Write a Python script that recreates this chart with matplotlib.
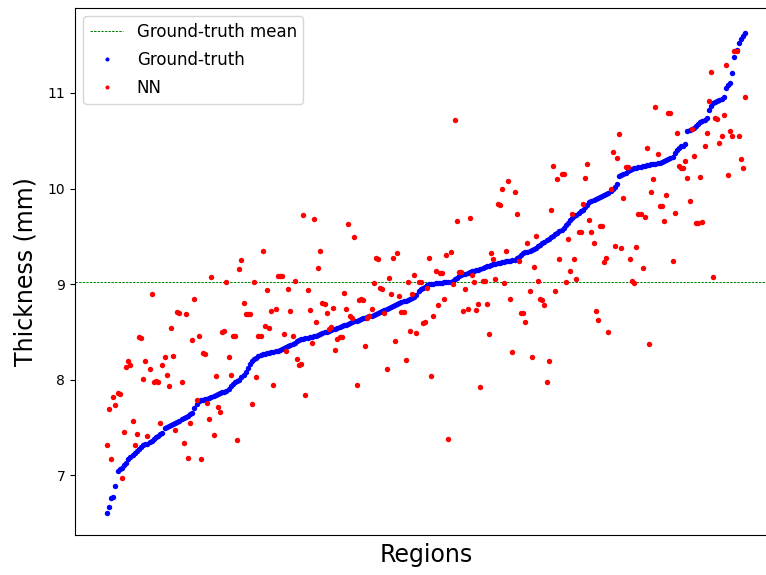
import numpy as np
import matplotlib
matplotlib.use("Agg")
import matplotlib.pyplot as plt

# Ground-truth thickness per region (mm), sorted ascending
ground_truth = [
    6.60, 6.66, 6.76, 6.77, 6.88, 7.04, 7.06, 7.07, 7.10, 7.13,
    7.17, 7.19, 7.21, 7.23, 7.25, 7.27, 7.29, 7.31, 7.32, 7.33,
    7.35, 7.36, 7.38, 7.40, 7.41, 7.43, 7.44, 7.49, 7.50, 7.51,
    7.52, 7.53, 7.54, 7.56, 7.57, 7.59, 7.60, 7.61, 7.62, 7.64,
    7.65, 7.70, 7.74, 7.78, 7.79, 7.79, 7.80, 7.80, 7.81, 7.82,
    7.83, 7.84, 7.85, 7.86, 7.87, 7.87, 7.88, 7.90, 7.93, 7.95,
    7.97, 7.98, 8.00, 8.03, 8.05, 8.08, 8.12, 8.16, 8.19, 8.21,
    8.23, 8.25, 8.26, 8.27, 8.27, 8.28, 8.28, 8.29, 8.29, 8.30,
    8.30, 8.31, 8.32, 8.33, 8.34, 8.35, 8.36, 8.37, 8.38, 8.40,
    8.41, 8.42, 8.42, 8.43, 8.43, 8.44, 8.45, 8.46, 8.46, 8.47,
    8.48, 8.49, 8.50, 8.50, 8.51, 8.52, 8.53, 8.53, 8.54, 8.55,
    8.56, 8.57, 8.57, 8.58, 8.59, 8.60, 8.61, 8.61, 8.62, 8.63,
    8.64, 8.64, 8.65, 8.66, 8.67, 8.68, 8.69, 8.70, 8.71, 8.72,
    8.73, 8.74, 8.75, 8.76, 8.77, 8.78, 8.79, 8.80, 8.81, 8.82,
    8.82, 8.83, 8.84, 8.85, 8.86, 8.88, 8.93, 8.95, 8.96, 8.97,
    8.99, 9.00, 9.00, 9.00, 9.01, 9.01, 9.01, 9.01, 9.02, 9.02,
    9.02, 9.02, 9.03, 9.05, 9.06, 9.08, 9.09, 9.10, 9.11, 9.12,
    9.13, 9.14, 9.14, 9.15, 9.15, 9.16, 9.17, 9.18, 9.19, 9.19,
    9.20, 9.21, 9.21, 9.22, 9.22, 9.23, 9.23, 9.24, 9.24, 9.24,
    9.25, 9.25, 9.27, 9.28, 9.30, 9.32, 9.33, 9.34, 9.35, 9.36,
    9.37, 9.38, 9.40, 9.41, 9.43, 9.44, 9.46, 9.47, 9.49, 9.50,
    9.52, 9.53, 9.55, 9.57, 9.59, 9.62, 9.64, 9.67, 9.69, 9.71,
    9.72, 9.74, 9.76, 9.78, 9.81, 9.83, 9.86, 9.87, 9.88, 9.89,
    9.90, 9.91, 9.92, 9.93, 9.94, 9.95, 9.97, 10.00, 10.02, 10.05,
    10.13, 10.14, 10.15, 10.16, 10.18, 10.19, 10.20, 10.21, 10.21, 10.22,
    10.23, 10.24, 10.24, 10.25, 10.25, 10.26, 10.26, 10.26, 10.27, 10.27,
    10.28, 10.29, 10.30, 10.31, 10.32, 10.33, 10.37, 10.40, 10.42, 10.44,
    10.45, 10.47, 10.60, 10.61, 10.62, 10.63, 10.65, 10.68, 10.70, 10.71,
    10.72, 10.74, 10.82, 10.86, 10.90, 10.91, 10.92, 10.93, 10.94, 10.96,
    11.05, 11.08, 11.10, 11.21, 11.38, 11.45, 11.52, 11.57, 11.60, 11.63,
]

# Network prediction for the same regions (mm)
nn_pred = [
    7.31, 7.69, 7.165, 7.82, 7.73, 7.855, 7.85, 6.97, 7.45, 8.13,
    8.19, 8.155, 7.57, 7.31, 7.43, 8.44, 8.43, 8.01, 8.19, 7.405,
    8.11, 8.895, 7.97, 7.98, 7.97, 7.54, 8.155, 8.24, 8.05, 7.93,
    8.54, 8.25, 7.47, 8.71, 8.70, 7.97, 7.335, 8.69, 7.18, 7.54,
    8.41, 8.84, 7.785, 8.46, 7.17, 8.28, 8.27, 7.75, 7.59, 9.07,
    7.42, 8.04, 7.715, 7.66, 8.50, 8.505, 9.024, 8.24, 8.05, 8.46,
    8.46, 7.37, 9.16, 9.25, 8.80, 8.69, 8.69, 8.69, 7.74, 9.024,
    8.03, 8.455, 8.46, 9.345, 8.56, 8.94, 8.54, 8.714, 7.94, 8.74,
    9.08, 9.08, 9.08, 8.48, 8.30, 8.95, 8.72, 8.46, 9.035, 8.21,
    8.15, 8.16, 9.726, 7.84, 8.94, 8.73, 8.38, 9.68, 8.605, 9.165,
    9.345, 8.80, 8.79, 8.70, 8.53, 8.55, 8.745, 8.31, 8.42, 8.445,
    8.44, 8.91, 8.74, 9.63, 8.67, 8.64, 9.49, 7.94, 8.83, 8.84,
    8.83, 8.354, 8.64, 8.665, 8.74, 9.01, 9.27, 9.26, 8.955, 8.95,
    8.70, 8.105, 9.06, 8.895, 9.27, 8.40, 9.32, 8.87, 8.71, 8.71,
    8.20, 9.02, 8.51, 8.895, 9.09, 8.49, 9.02, 9.02, 8.59, 8.605,
    8.955, 9.27, 8.04, 8.66, 9.14, 8.78, 9.12, 9.12, 8.84, 9.30,
    7.38, 9.34, 9.00, 10.72, 9.66, 9.13, 9.13, 8.714, 8.95, 8.74,
    9.695, 9.09, 9.02, 8.73, 8.79, 7.92, 9.03, 9.03, 8.79, 8.48,
    9.32, 9.26, 9.05, 9.835, 9.83, 9.99, 9.01, 9.35, 10.08, 8.84,
    8.29, 9.96, 9.73, 9.24, 8.70, 8.70, 8.60, 9.43, 8.93, 8.235,
    9.18, 9.50, 9.03, 8.84, 8.83, 8.78, 7.97, 8.19, 9.77, 10.24,
    8.93, 10.10, 9.26, 10.15, 10.15, 9.02, 9.475, 9.14, 9.73, 9.26,
    9.055, 9.54, 9.54, 9.835, 10.11, 10.26, 9.67, 9.54, 9.43, 8.72,
    8.62, 9.61, 9.61, 9.23, 9.275, 8.50, 10.00, 10.385, 9.395, 10.32,
    10.57, 9.38, 9.90, 10.23, 10.23, 9.265, 9.03, 9.01, 9.39, 9.73,
    9.73, 9.165, 9.70, 10.42, 8.375, 9.96, 10.10, 10.85, 10.36, 9.82,
    9.82, 9.66, 9.93, 10.79, 10.795, 9.245, 9.74, 10.58, 10.24, 10.21,
    10.21, 10.29, 10.11, 9.87, 10.62, 10.34, 9.64, 9.64, 10.12, 9.65,
    10.445, 10.58, 10.92, 11.22, 9.07, 10.735, 10.73, 10.48, 10.55, 10.77,
    11.29, 10.145, 10.60, 10.55, 11.44, 11.44, 10.55, 10.305, 10.21, 10.96,
]

gt = np.array(ground_truth)
nn = np.array(nn_pred)
regions = np.arange(len(gt))
gt_mean = 9.02

fig = plt.figure(figsize=(7.66, 5.75), dpi=100)
# the axes run slightly past the right edge of the canvas
ax = fig.add_axes([75 / 766, 1 - 535 / 575, 702 / 766, 527 / 575])

ax.axhline(gt_mean, color="green", linestyle="--", linewidth=0.7,
           dashes=(2.5, 1.2), label="Ground-truth mean")
ax.plot(regions, gt, linestyle="none", marker="o", markersize=3.9,
        markeredgewidth=0, color="blue", label="Ground-truth")
ax.plot(regions, nn, linestyle="none", marker="o", markersize=3.9,
        markeredgewidth=0, color="red", label="NN")

ax.set_xlim(-14.95, len(gt) - 1 + 14.95)
ax.set_ylim(6.372, 11.89)
ax.set_xticks([])
ax.set_yticks([7, 8, 9, 10, 11])
ax.tick_params(axis="y", labelsize=10)
ax.set_xlabel("Regions", fontsize=17, labelpad=6)
ax.set_ylabel("Thickness (mm)", fontsize=17, labelpad=7)

ax.legend(loc="upper left", fontsize=12, markerscale=0.75,
          handlelength=2.0, labelspacing=0.6, borderaxespad=0.5)

fig.savefig("out.png", dpi=100)
